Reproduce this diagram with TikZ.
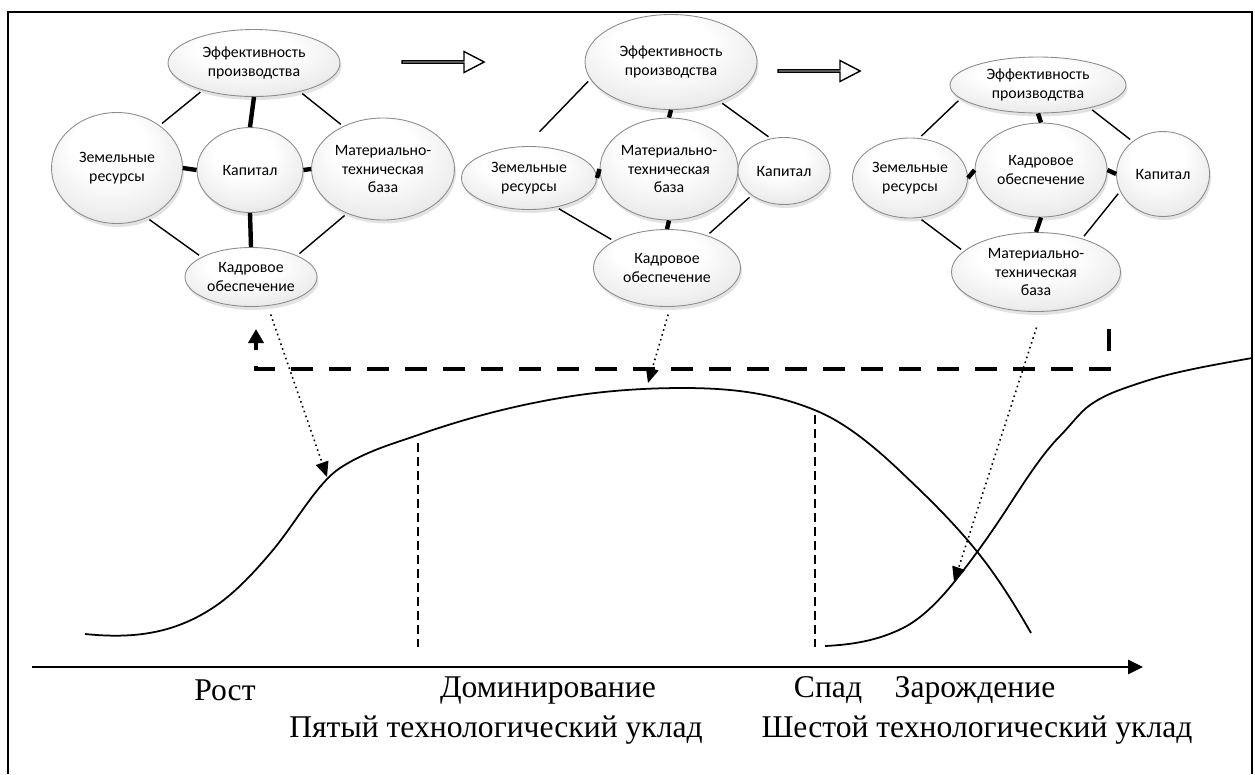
\documentclass[tikz,border=0pt]{standalone}
\usepackage{fontspec}
\setmainfont{Liberation Serif}
\newfontfamily\bubblefont{Carlito}
\usetikzlibrary{shapes.geometric,shapes.arrows,arrows.meta,shadows}

\pgfdeclareradialshading{bubbleshade}{\pgfpoint{-4bp}{14bp}}{color(0bp)=(white); color(14bp)=(white);
	color(28bp)=(black!7); color(40bp)=(black!18); color(47bp)=(black!30); color(50bp)=(black!40)}

\tikzset{
	bubble/.style={ellipse, inner sep=0pt, align=center, draw=black!45, line width=0.5pt,
		shade, shading=bubbleshade,
		drop shadow={shadow xshift=0.3mm, shadow yshift=-0.7mm, opacity=0.22},
		font=\bubblefont\fontsize{9}{10.5}\selectfont},
	harrow/.style={single arrow, draw, line width=0.8pt, fill=white, inner sep=0pt,
		minimum height=16.4mm, minimum width=4.2mm,
		single arrow head extend=1.1mm, single arrow tip angle=55},
	dotarrow/.style={dotted, line width=0.9pt, -{Triangle[length=3mm,width=2.6mm]}},
	fbline/.style={line width=2.3pt, dash pattern=on 4.4mm off 3.2mm, -{Triangle[length=2.8mm,width=3mm]}},
	vline/.style={line width=0.7pt, dash pattern=on 1.7mm off 1.1mm},
	curveline/.style={line width=1pt},
	axisline/.style={line width=1.6pt, -{Triangle[length=3mm,width=2.8mm]}}
}

\begin{document}
\begin{tikzpicture}[x=0.2mm, y=-0.2mm]
		\useasboundingbox (0,0) rectangle (1255,774);
		\draw[line width=1.1pt] (8,774) -- (8,12) -- (1252,12) -- (1252,774);

		\begin{scope}[every node/.style={bubble}]
			\node (Eff1)[minimum width=34.4mm, minimum height=13.4mm] at (254,63) {Эффективность\\производства};
			\node (Zem1)[minimum width=26.2mm, minimum height=22.2mm] at (117,168) {Земельные\\ресурсы};
			\node (Kap1)[minimum width=21.2mm, minimum height=17mm] at (250,170) {Капитал};
			\node (Mat1)[minimum width=28.6mm, minimum height=20.4mm] at (383,169) {Материально-\\техническая\\база};
			\node (Kadr1)[minimum width=26.4mm, minimum height=11.8mm] at (251,277) {Кадровое\\обеспечение};

			\node (Eff2)[minimum width=34.4mm, minimum height=19mm] at (671,62) {Эффективность\\производства};
			\node (Zem2)[minimum width=27mm, minimum height=12.6mm] at (529,178) {Земельные\\ресурсы};
			\node (Mat2)[minimum width=27.6mm, minimum height=20.4mm] at (669,169) {Материально-\\техническая\\база};
			\node (Kap2)[minimum width=18.4mm, minimum height=13.4mm] at (784,171) {Капитал};
			\node (Kadr2)[minimum width=29.4mm, minimum height=15.4mm] at (667,268) {Кадровое\\обеспечение};

			\node (Eff3)[minimum width=35.2mm, minimum height=11.2mm] at (1038,85) {Эффективность\\производства};
			\node (Zem3)[minimum width=23mm, minimum height=16mm] at (910,178) {Земельные\\ресурсы};
			\node (Kadr3)[minimum width=26.4mm, minimum height=18.8mm] at (1041,170) {Кадровое\\обеспечение};
			\node (Kap3)[minimum width=18.6mm, minimum height=17mm] at (1163,174) {Капитал};
			\node (Mat3)[minimum width=33.8mm, minimum height=15.8mm] at (1036,272) {Материально-\\техническая\\база};
		\end{scope}

		\begin{scope}[every edge/.style={draw, line width=0.8pt, shorten <=0.6mm, shorten >=0.6mm}]
			\path [-] (Eff1.208) edge (Zem1.45);
			\path [-] (Eff1.328) edge (Mat1.133);
			\path [-] (Zem1.301) edge (Kadr1.158);
			\path [-] (Mat1.231) edge (Kadr1.25);
			\path [-] (Eff2.192) edge [shorten >=4mm] (Zem2.96);
			\path [-] (Eff2.321) edge (Kap2.112);
			\path [-] (Zem2.313) edge (Kadr2.153);
			\path [-] (Kap2.217) edge (Kadr2.39);
			\path [-] (Eff3.190) edge (Zem3.77);
			\path [-] (Eff3.336) edge (Kap3.133);
			\path [-] (Zem3.283) edge (Mat3.164);
			\path [-] (Kap3.202) edge (Mat3.36);
		\end{scope}
		\begin{scope}[every edge/.style={draw, line width=2.5pt}]
			\path [-] (Eff1.south) edge (Kap1.north);
			\path [-] (Zem1.east) edge (Kap1.west);
			\path [-] (Kap1.east) edge (Mat1.west);
			\path [-] (Kap1.south) edge (Kadr1.north);
			\path [-] (Eff2.south) edge (Mat2.north);
			\path [-] (Zem2.east) edge (Mat2.west);
			\path [-] (Mat2.south) edge (Kadr2.north);
			\path [-] (Eff3.south) edge (Kadr3.north);
			\path [-] (Zem3.east) edge (Kadr3.west);
			\path [-] (Kadr3.east) edge (Kap3.west);
			\path [-] (Kadr3.south) edge (Mat3.north);
		\end{scope}

		\node (next1)[harrow] at (442,62) {};
		\node (next2)[harrow] at (818,71) {};

		\coordinate (fb1) at (1109,329);
		\coordinate (fb2) at (1109,369);
		\coordinate (fb3) at (256,369);
		\coordinate (fb4) at (256,329);
		\draw[fbline] (fb1) -- (fb2) -- (fb3) -- (fb4);

		\draw[curveline] (85,634) .. controls (129,638.4) and (173,635.8) .. (217,605)
			.. controls (235.7,591.9) and (254.3,572.4) .. (273,550)
			.. controls (295.3,523.2) and (317.7,482.5) .. (340,468)
			.. controls (366,451.1) and (392,444.1) .. (418,435)
			.. controls (465.3,418.4) and (512.7,406) .. (560,398)
			.. controls (601,391) and (642,388) .. (683,388)
			.. controls (727.7,388) and (772.3,392.2) .. (817,411)
			.. controls (844.7,422.6) and (872.3,444.7) .. (900,471)
			.. controls (926.3,496) and (952.7,521.1) .. (979,554)
			.. controls (996.3,575.6) and (1013.7,602.7) .. (1031,633);
		\draw[curveline] (825,646) .. controls (851,644.7) and (877,641) .. (903,628)
			.. controls (920.3,619.3) and (937.7,602.6) .. (955,581)
			.. controls (973.3,558.1) and (991.7,532.4) .. (1010,504)
			.. controls (1026.7,478.2) and (1043.3,452.7) .. (1060,436)
			.. controls (1070,426) and (1080,412) .. (1090,405)
			.. controls (1101.7,396.8) and (1113.3,392.1) .. (1125,388)
			.. controls (1139,383.1) and (1153,378.5) .. (1167,375)
			.. controls (1195.3,367.9) and (1223.7,363.1) .. (1252,358);

		\coordinate (p1) at (327,477);
		\coordinate (p2) at (648,383);
		\coordinate (p3) at (954,582);
		\draw[dotarrow, shorten <=1.8mm] (Kadr1.300) -- (p1);
		\draw[dotarrow, shorten <=1.6mm] (Kadr2.275) -- (p2);
		\draw[dotarrow, shorten <=3.3mm] (Mat3.278) -- (p3);

		\coordinate (v1a) at (418,443);
		\coordinate (v1b) at (418,647);
		\coordinate (v2a) at (815,415);
		\coordinate (v2b) at (815,647);
		\draw[vline] (v1a) -- (v1b);
		\draw[vline] (v2a) -- (v2b);

		\coordinate (ax0) at (32,667);
		\coordinate (ax1) at (1143,667);
		\draw[axisline] (ax0) -- (ax1);

		\begin{scope}[every node/.style={font=\fontsize{18}{21}\selectfont}]
			\node (rost) at (225,690) {Рост};
			\node (dom) at (548,690) {Доминирование};
			\node (spad) at (828,690) {Спад};
			\node (zar) at (975,690) {Зарождение};
			\node (uklad5) at (496,730) {Пятый технологический уклад};
			\node (uklad6) at (977,730) {Шестой технологический уклад};
		\end{scope}
	\end{tikzpicture}
\end{document}
